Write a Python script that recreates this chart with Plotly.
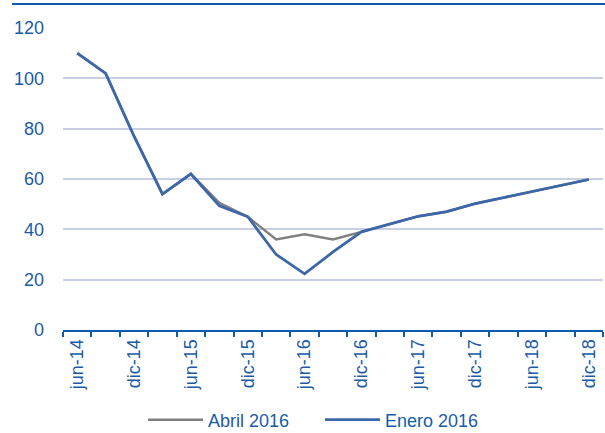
import plotly.graph_objects as go

categories = ["jun-14", "sep-14", "dic-14", "mar-15", "jun-15", "sep-15", "dic-15",
              "mar-16", "jun-16", "sep-16", "dic-16", "mar-17", "jun-17", "sep-17",
              "dic-17", "mar-18", "jun-18", "sep-18", "dic-18"]
abril_2016 = [110, 102, 77, 54, 62, 50.5, 45, 36, 38, 36, 39, 42, 45.2, 47, 50.2, 52.6, 55, 57.2, 59.8]
enero_2016 = [110, 102, 77, 54, 62, 49.3, 45, 30, 22.3, 31, 39, 42, 45.2, 47, 50.2, 52.6, 55, 57.2, 59.8]
tick_labels = [c if c.startswith(("jun", "dic")) else "" for c in categories]
y_ticks = [0, 20, 40, 60, 80, 100, 120]

TEXT = "#1A5BA3"
AXIS = "#0B5CAD"
FONT = "Liberation Sans, Arial, sans-serif"

fig = go.Figure()
fig.add_trace(go.Scatter(x=categories, y=abril_2016, mode="lines", name="Abril 2016",
                         line=dict(color="#808080", width=2.5)))
fig.add_trace(go.Scatter(x=categories, y=enero_2016, mode="lines", name="Enero 2016",
                         line=dict(color="#3C67A8", width=2.8)))

fig.update_layout(
    width=605, height=433,
    margin=dict(l=63, r=2, t=28, b=103, autoexpand=False),
    paper_bgcolor="white", plot_bgcolor="white",
    font=dict(family=FONT, size=18, color=TEXT),
    showlegend=True,
    legend=dict(orientation="h", x=(143 - 63) / 540, xanchor="left", y=-0.298, yanchor="middle",
                font=dict(size=18, color=TEXT), itemwidth=55,
                entrywidth=107, entrywidthmode="pixels"),
    xaxis=dict(type="category", tickmode="array", tickvals=categories, ticktext=tick_labels,
               tickangle=-90, tickson="boundaries", ticks="outside", ticklen=5, tickwidth=2,
               tickcolor=AXIS, showline=True, linecolor=AXIS, linewidth=2,
               showgrid=False, range=[-0.5, len(categories) - 0.5], automargin=False,
               tickfont=dict(size=18, color=TEXT)),
    yaxis=dict(range=[0, 120], tickvals=y_ticks, showgrid=True, gridcolor="#C8CEE3",
               gridwidth=1.5, zeroline=False, showline=False, ticks="", automargin=False,
               ticklabelstandoff=18, tickfont=dict(size=18, color=TEXT)),
    shapes=[dict(type="line", xref="paper", yref="paper",
                 x0=(12 - 63) / 540, x1=1.01, y0=(330 - 4) / 302, y1=(330 - 4) / 302,
                 line=dict(color=AXIS, width=2))],
)

fig.write_html("out.html", config={"displayModeBar": False},
               post_script="document.body.style.margin='0';")
